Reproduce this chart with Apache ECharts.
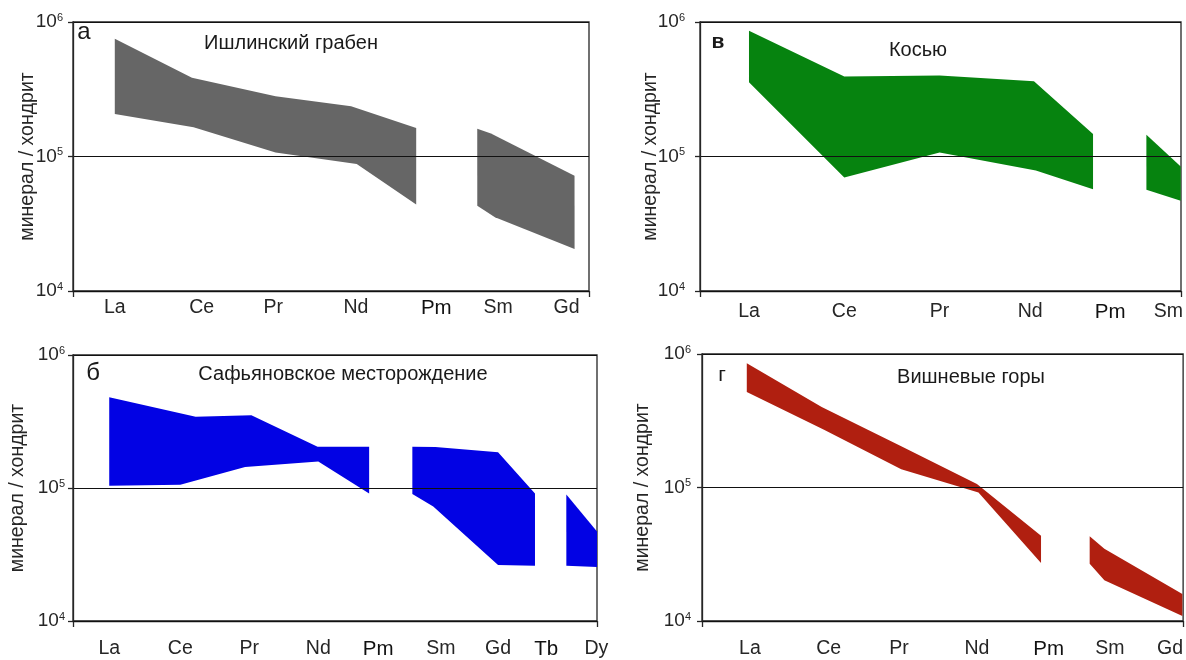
<!DOCTYPE html>
<html>
<head>
<meta charset="utf-8">
<title>Спектры РЗЭ, минерал / хондрит</title>
<script src="https://cdn.jsdelivr.net/npm/echarts@6/dist/echarts.min.js"></script>
<style>
  html, body { margin: 0; padding: 0; background: #fff; }
  #chart { width: 1186px; height: 660px; }
</style>
</head>
<body>
<div id="chart"></div>
<script>
// подписи элементов и их места по оси x (в шагах между La и Nd, как на рисунке)
var elemA = ['La', 'Ce', 'Pr', 'Nd', 'Pm', 'Sm', 'Gd'];
var posA = [0, 1.08, 1.97, 3, 4, 4.77, 5.62];
var elemV = ['La', 'Ce', 'Pr', 'Nd', 'Pm', 'Sm'];
var posV = [0, 1, 2, 2.95, 3.79, 4.4];
var elemB = ['La', 'Ce', 'Pr', 'Nd', 'Pm', 'Sm', 'Gd', 'Tb', 'Dy'];
var posB = [0, 1.02, 2.01, 3, 3.86, 4.76, 5.58, 6.27, 6.99];
var elemG = ['La', 'Ce', 'Pr', 'Nd', 'Pm', 'Sm', 'Gd'];
var posG = [0.04, 1.06, 1.97, 2.98, 3.91, 4.7, 5.48];

// подписи оси y: степени десяти
var yTicks = [1e4, 1e5, 1e6];

// поля составов: верхняя и нижняя граница, [место, минерал/хондрит]
// а - Ишлинский грабен
var upA1 = [[0, 7.5e5], [0.96, 3.85e5], [2, 2.8e5], [2.94, 2.36e5], [3.75, 1.63e5]];
var loA1 = [[0, 2.07e5], [0.98, 1.65e5], [2, 1.07e5], [3.01, 8.8e4], [3.75, 4.4e4]];
var upA2 = [[4.51, 1.61e5], [4.68, 1.48e5], [5.72, 7.2e4]];
var loA2 = [[4.51, 4.3e4], [4.73, 3.54e4], [5.72, 2.05e4]];
// в - Косью
var upV1 = [[0, 8.6e5], [1, 3.94e5], [2, 4.01e5], [2.99, 3.62e5], [3.61, 1.47e5]];
var loV1 = [[0, 3.56e5], [1, 6.98e4], [2, 1.07e5], [3.01, 7.87e4], [3.61, 5.72e4]];
var upV2 = [[4.17, 1.45e5], [4.53, 8.43e4]];
var loV2 = [[4.17, 5.65e4], [4.53, 4.68e4]];
// б - Сафьяновское месторождение
var upB1 = [[0, 4.82e5], [1.24, 3.44e5], [2.04, 3.52e5], [2.99, 2.04e5], [3.73, 2.04e5]];
var loB1 = [[0, 1.04e5], [1.02, 1.06e5], [1.95, 1.44e5], [3, 1.58e5], [3.73, 9.1e4]];
var upB2 = [[4.35, 2.04e5], [4.68, 2.03e5], [5.58, 1.86e5], [6.11, 9.1e4]];
var loB2 = [[4.35, 9.0e4], [4.65, 7.25e4], [5.58, 2.64e4], [6.11, 2.6e4]];
var upB3 = [[6.56, 8.95e4], [7, 4.7e4]];
var loB3 = [[6.56, 2.6e4], [7, 2.55e4]];
// г - Вишневые горы
var upG1 = [[0, 8.53e5], [0.97, 4.01e5], [2, 2.04e5], [2.98, 1.06e5], [3.81, 4.36e4]];
var loG1 = [[0, 5.19e5], [1, 2.71e5], [2, 1.37e5], [3, 9.18e4], [3.81, 2.72e4]];
var upG2 = [[4.44, 4.32e4], [4.63, 3.47e4], [5.64, 1.59e4]];
var loG2 = [[4.44, 2.69e4], [4.63, 2.02e4], [5.64, 1.09e4]];

var font = 'Liberation Sans, Arial, sans-serif';
var ink = '#262626';

var panels = [
  { grid: { left: 73, top: 22, width: 516, height: 269 }, xMin: -0.52, xMax: 5.9,
    names: elemA, pos: posA, segs: [[upA1, loA1], [upA2, loA2]], color: '#666666',
    labelMargin: 7, yMargin: 10, nameGap: 35 },
  { grid: { left: 700, top: 22, width: 481, height: 269 }, xMin: -0.514, xMax: 4.533,
    names: elemV, pos: posV, segs: [[upV1, loV1], [upV2, loV2]], color: '#06830f',
    labelMargin: 11, yMargin: 15, nameGap: 39 },
  { grid: { left: 73, top: 355, width: 524, height: 269 }, xMin: -0.52, xMax: 7,
    names: elemB, pos: posB, segs: [[upB1, loB1], [upB2, loB2], [upB3, loB3]], color: '#0202e4',
    labelMargin: 18, yMargin: 8, nameGap: 45 },
  { grid: { left: 702, top: 354, width: 483, height: 269 }, xMin: -0.58, xMax: 5.65,
    names: elemG, pos: posG, segs: [[upG1, loG1], [upG2, loG2]], color: '#b01f10',
    labelMargin: 18, yMargin: 11, nameGap: 49 }
];

var grids = [], xAxes = [], yAxes = [], series = [];

panels.forEach(function (p, i) {
  grids.push(Object.assign({ show: true, borderColor: ink, borderWidth: 1.3 }, p.grid));

  xAxes.push({
    gridIndex: i, type: 'value', min: p.xMin, max: p.xMax,
    axisLine: { show: true, onZero: false, lineStyle: { color: ink, width: 1.3 } },
    axisTick: { show: true, length: 6, customValues: [p.xMin, p.xMax], lineStyle: { color: ink, width: 1.3 } },
    axisLabel: {
      customValues: p.pos, margin: p.labelMargin, color: ink, fontSize: 19.5, fontFamily: font,
      formatter: function (v) {
        var n = p.names[p.pos.indexOf(v)];
        return (n === 'Pm' || n === 'Tb') ? '{p|' + n + '}' : n;
      },
      rich: { p: { fontSize: 20.5, color: '#111', fontFamily: font } }
    },
    splitLine: { show: false }
  });

  yAxes.push({
    gridIndex: i, type: 'log', logBase: 10, min: yTicks[0], max: yTicks[yTicks.length - 1], z: 5,
    axisLine: { show: true, onZero: false, lineStyle: { color: ink, width: 1.3 } },
    axisTick: { show: true, length: 5, lineStyle: { color: ink, width: 1.3 } },
    axisLabel: {
      margin: p.yMargin,
      formatter: function (v) { return '{b|10}{s|' + Math.round(Math.log10(v)) + '}'; },
      rich: {
        b: { fontSize: 19, color: ink, fontFamily: font, lineHeight: 20 },
        s: { fontSize: 11, color: ink, fontFamily: font, verticalAlign: 'top', lineHeight: 12 }
      }
    },
    splitLine: { show: true, lineStyle: { color: '#111', width: 1.2 } },
    name: 'минерал / хондрит', nameLocation: 'middle', nameRotate: 90, nameGap: p.nameGap,
    nameMoveOverlap: false,
    nameTextStyle: { fontSize: 19.5, color: ink, fontFamily: font }
  });

  series.push({
    type: 'custom', xAxisIndex: i, yAxisIndex: i, silent: true,
    data: p.segs.map(function (s) { return s[0][0]; }),
    renderItem: function (params, api) {
      var seg = p.segs[params.dataIndex];
      var pts = seg[0].map(function (d) { return api.coord(d); })
        .concat(seg[1].slice().reverse().map(function (d) { return api.coord(d); }));
      return { type: 'polygon', shape: { points: pts }, style: { fill: p.color } };
    }
  });
});

function label(text, x, y, size, bold) {
  return {
    type: 'text', x: x, y: y, z: 10,
    style: { text: text, fill: '#1a1a1a', font: (bold ? 'bold ' : '') + size + 'px ' + font,
             textAlign: 'center', textVerticalAlign: 'middle' }
  };
}

var chart = echarts.init(document.getElementById('chart'));
chart.setOption({
  animation: false,
  backgroundColor: '#ffffff',
  textStyle: { fontFamily: font },
  grid: grids,
  xAxis: xAxes,
  yAxis: yAxes,
  series: series,
  graphic: [
    label('Ишлинский грабен', 291, 43, 20),
    label('Косью', 918, 50, 20),
    label('Сафьяновское месторождение', 343, 374, 20),
    label('Вишневые горы', 971, 377, 20),
    label('а', 84, 32, 24),
    label('в', 718, 42, 21, true),
    label('б', 93, 373, 24),
    label('г', 722, 375, 21)
  ]
});
</script>
</body>
</html>
